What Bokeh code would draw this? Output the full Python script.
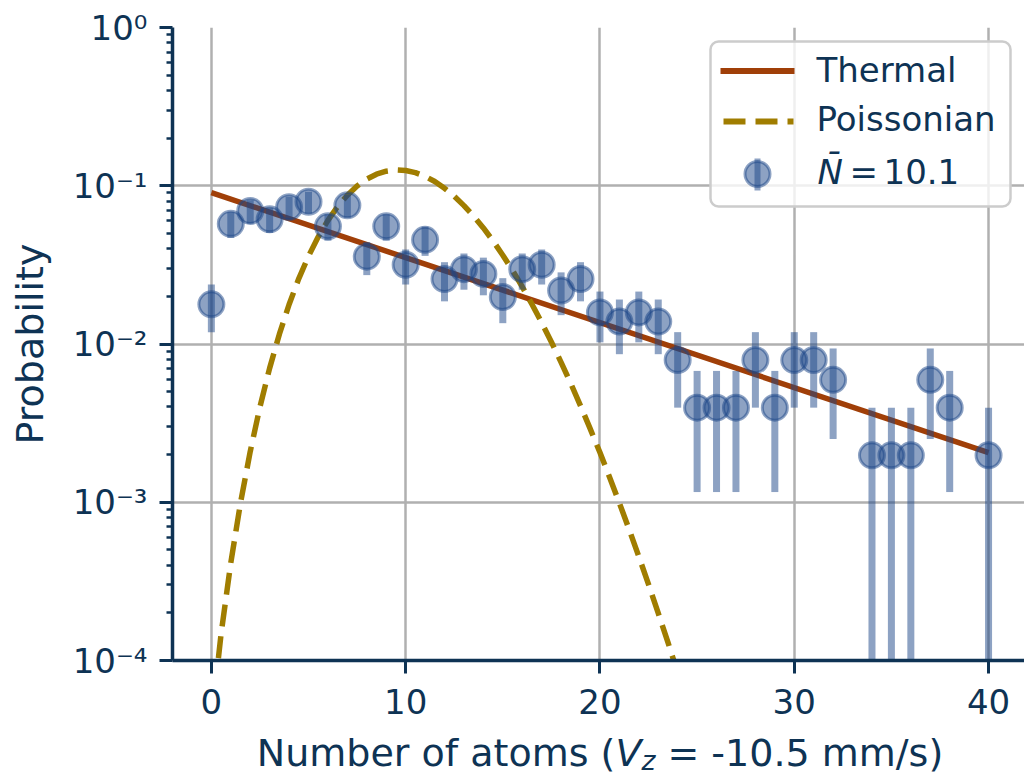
import math
from bokeh.plotting import figure
from bokeh.layouts import column
from bokeh.models import (Range1d, FixedTicker, CustomJSTickFormatter, BoxAnnotation,
                          Arrow, Label, Div)
from bokeh.embed import file_html
from bokeh.resources import INLINE

# ---------------- data ----------------
atoms = [0, 1, 2, 3, 4, 5, 6, 7, 8, 9, 10, 11, 12, 13, 14, 15, 16, 17, 18, 19, 20,
         21, 22, 23, 24, 25, 26, 27, 28, 29, 30, 31, 32, 34, 35, 36, 37, 38, 40]
probability = [0.017822, 0.057426, 0.069307, 0.061386, 0.073267, 0.079208, 0.055446,
               0.075248, 0.035644, 0.055446, 0.031683, 0.045545, 0.025743, 0.029703,
               0.027723, 0.019802, 0.029703, 0.031683, 0.021782, 0.025743, 0.015842,
               0.013861, 0.015842, 0.013861, 0.007921, 0.003960, 0.003960, 0.003960,
               0.007921, 0.003960, 0.007921, 0.007921, 0.005941, 0.001980, 0.001980,
               0.001980, 0.005941, 0.003960, 0.001980]
prob_error = [0.005941, 0.010664, 0.011715, 0.011025, 0.012045, 0.012524, 0.010478,
              0.012207, 0.008401, 0.010478, 0.007921, 0.009497, 0.007140, 0.007669,
              0.007409, 0.006262, 0.007669, 0.007921, 0.006568, 0.007140, 0.005601,
              0.005239, 0.005601, 0.005239, 0.003960, 0.002800, 0.002800, 0.002800,
              0.003960, 0.002800, 0.003960, 0.003960, 0.003430, 0.001980, 0.001980,
              0.001980, 0.003430, 0.002800, 0.001980]

thermal_atoms = [0, 40]
thermal_prob = [0.0905, 0.00206]

poisson_atoms = [0, 0.5, 1, 1.5, 2, 2.5, 3, 3.5, 4, 4.5, 5, 5.5, 6, 6.5, 7, 7.5, 8, 8.5,
                 9, 9.5, 10, 10.5, 11, 11.5, 12, 12.5, 13, 13.5, 14, 14.5, 15, 15.5, 16,
                 16.5, 17, 17.5, 18, 18.5, 19, 19.5, 20, 20.5, 21, 21.5, 22, 22.5, 23,
                 23.5, 24]
poisson_prob = [4.10e-5, 1.47e-4, 4.14e-4, 9.90e-4, 2.09e-3, 4.00e-3, 7.04e-3, 1.154e-2,
                1.777e-2, 2.591e-2, 3.59e-2, 4.757e-2, 6.04e-2, 7.39e-2, 8.72e-2,
                9.96e-2, 0.1101, 0.1183, 0.1235, 0.1258, 0.1248, 0.1210, 0.1146, 0.1063,
                9.64e-2, 8.59e-2, 7.49e-2, 6.43e-2, 5.41e-2, 4.48e-2, 3.64e-2, 2.92e-2,
                2.30e-2, 1.785e-2, 1.366e-2, 1.030e-2, 7.66e-3, 5.63e-3, 4.07e-3,
                2.91e-3, 2.06e-3, 1.435e-3, 9.89e-4, 6.74e-4, 4.54e-4, 3.03e-4,
                1.99e-4, 1.30e-4, 8.39e-5]

x_ticks = [0, 10, 20, 30, 40]
y_ticks = [1e-4, 1e-3, 1e-2, 1e-1, 1.0]
legend_labels = ["Thermal", "Poissonian", "N\u0304", "=", "10.1"]
x_label_parts = ["Number of atoms (", "V", "z", " = -10.5 mm/s)"]
y_label = "Probability"

# ---------------- style ----------------
NAVY = "#0e3354"
DOT = "#1c4587"
THERMAL = "#a03f08"
POISSON = "#a07d00"
GRID = "#b0b0b0"
FONT = "DejaVu Sans"

W, H = 1024, 736
FL, FR, FT, FB = 172, 0, 27, 76
XR = (-2.0, 41.85)
YR = (1e-4, 1.0)
FW, FH = W - FL - FR, H - FT - FB
TEXT_SHIFT = -14  # empirical baseline correction for Label annotations


def px_x(px):
    return XR[0] + (px - FL) / FW * (XR[1] - XR[0])


def px_y(py):
    lo, hi = math.log10(YR[0]), math.log10(YR[1])
    return 10 ** (hi - (py - FT) / FH * (hi - lo))


p = figure(width=W, height=H, x_range=Range1d(*XR), y_range=Range1d(*YR),
           y_axis_type="log", output_backend="svg", toolbar_location=None,
           min_border_left=FL, min_border_right=FR, min_border_top=FT,
           min_border_bottom=FB)
p.outline_line_color = None
p.background_fill_color = "white"
p.border_fill_color = "white"

for ax in (p.xaxis[0], p.yaxis[0]):
    ax.axis_line_color = NAVY
    ax.axis_line_width = 3.5
    ax.major_tick_line_color = NAVY
    ax.major_tick_line_width = 3
    ax.major_tick_out = 13
    ax.major_tick_in = 0
    ax.major_label_text_font = FONT
    ax.major_label_text_font_size = "34px"
    ax.major_label_text_color = NAVY

p.xaxis.ticker = FixedTicker(ticks=x_ticks)
p.xaxis.minor_tick_line_color = None
p.xaxis.major_label_standoff = 15

minor = [m * 10 ** e for e in range(-4, 0) for m in range(2, 10)]
p.yaxis.ticker = FixedTicker(ticks=y_ticks, minor_ticks=minor)
p.yaxis.minor_tick_line_color = NAVY
p.yaxis.minor_tick_line_width = 2.5
p.yaxis.minor_tick_out = 6
p.yaxis.minor_tick_in = 0
p.yaxis.major_label_standoff = 12
p.yaxis.formatter = CustomJSTickFormatter(code="""
const sup = {"-":"\u207b","0":"\u2070","1":"\u00b9","2":"\u00b2","3":"\u00b3",
             "4":"\u2074","5":"\u2075","6":"\u2076","7":"\u2077","8":"\u2078","9":"\u2079"};
const e = Math.round(Math.log10(tick));
return "10" + String(e).split("").map(c => sup[c]).join("");
""")
p.yaxis.axis_label = y_label
p.yaxis.axis_label_text_font = FONT
p.yaxis.axis_label_text_font_size = "38px"
p.yaxis.axis_label_text_font_style = "normal"
p.yaxis.axis_label_text_color = NAVY
p.yaxis.axis_label_standoff = 18

p.xgrid.ticker = FixedTicker(ticks=x_ticks)
p.ygrid.ticker = FixedTicker(ticks=y_ticks)
p.grid.grid_line_color = GRID
p.grid.grid_line_width = 2.5

# ---------------- glyphs ----------------
p.line(thermal_atoms, thermal_prob, line_color=THERMAL, line_width=5.5)
p.line(poisson_atoms, poisson_prob, line_color=POISSON, line_width=5.5,
       line_dash="22 10")

lower = [max(v - e, 1e-6) for v, e in zip(probability, prob_error)]
upper = [v + e for v, e in zip(probability, prob_error)]
p.segment(x0=atoms, y0=lower, x1=atoms, y1=upper, line_color=DOT, line_alpha=0.5,
          line_width=7)
p.scatter(atoms, probability, marker="circle", size=25, fill_color=DOT, fill_alpha=0.5,
          line_color=DOT, line_alpha=0.5, line_width=3)

# ---------------- legend (drawn as annotations) ----------------
p.add_layout(BoxAnnotation(left=px_x(710), right=px_x(1010), top=px_y(41),
                           bottom=px_y(206), fill_color="white", fill_alpha=0.8,
                           line_color="#cccccc", line_width=2.5, line_alpha=1.0,
                           border_radius=8))
p.add_layout(Arrow(x_start=px_x(720), y_start=px_y(70.5), x_end=px_x(794),
                   y_end=px_y(70.5), start=None, end=None, line_color=THERMAL,
                   line_width=6))
p.add_layout(Arrow(x_start=px_x(723), y_start=px_y(121), x_end=px_x(793),
                   y_end=px_y(121), start=None, end=None, line_color=POISSON,
                   line_width=6, line_dash="22 10"))
p.add_layout(BoxAnnotation(left=px_x(754), right=px_x(760), top=px_y(158),
                           bottom=px_y(190), fill_color=DOT, fill_alpha=0.5,
                           line_color=None))
p.add_layout(BoxAnnotation(left=px_x(744.5), right=px_x(769.5), top=px_y(161),
                           bottom=px_y(186), fill_color=DOT, fill_alpha=0.5,
                           line_color=DOT, line_alpha=0.5, line_width=3,
                           border_radius=13))


def add_text(txt, px, py, size="34px", style="normal"):
    p.add_layout(Label(x=px_x(px), y=px_y(py + TEXT_SHIFT), text=txt, text_font=FONT,
                       text_font_size=size, text_font_style=style, text_color=NAVY,
                       text_align="left", text_baseline="alphabetic"))


add_text(legend_labels[0], 816, 83)
add_text(legend_labels[1], 816, 132)
add_text(legend_labels[2], 817, 185, style="italic")
add_text(legend_labels[3], 849, 185)
add_text(legend_labels[4], 883, 185)

# ---------------- x axis label (mixed styles, as HTML below the figure) ----------------
xlabel_html = (
    '<div style="margin-left:176px;width:848px;text-align:center;white-space:nowrap;'
    "font-family:'DejaVu Sans';font-size:38px;line-height:38px;margin-top:-2px;"
    f'color:{NAVY}">{x_label_parts[0]}<i>{x_label_parts[1]}</i>'
    '<span style="font-style:italic;font-size:26.6px;position:relative;top:4px">'
    f'{x_label_parts[2]}</span>{x_label_parts[3]}</div>'
)
xlabel = Div(text=xlabel_html, width=W, height=777 - H, margin=(0, 0, 0, 0))

layout = column(p, xlabel, spacing=0)
open("out.html", "w").write(file_html(layout, INLINE))
